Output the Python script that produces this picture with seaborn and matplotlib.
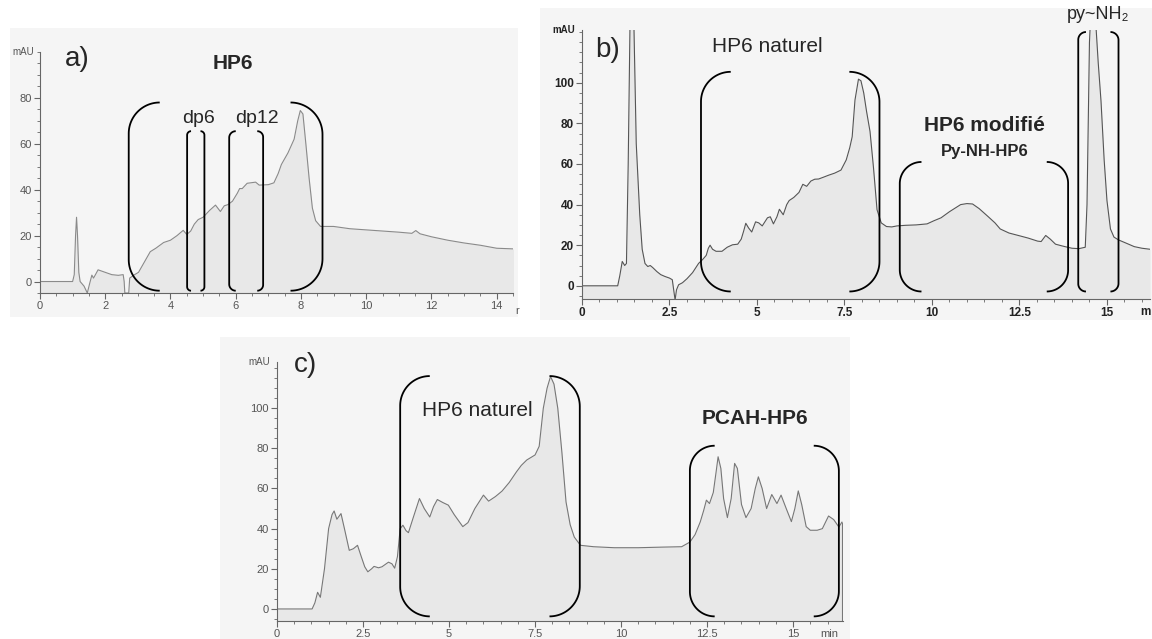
import numpy as np
import pandas as pd
import matplotlib
matplotlib.use("Agg")
import matplotlib.pyplot as plt
from matplotlib.patches import Rectangle
from matplotlib.ticker import MultipleLocator
import seaborn as sns

# ---- chromatogram a) HP6 ----
a_time = [0.0, 1.0, 1.05, 1.09, 1.12, 1.15, 1.19, 1.23, 1.35, 1.45, 1.52, 1.59, 1.64, 1.7,
          1.78, 1.9, 2.0, 2.2, 2.4, 2.55, 2.58, 2.6, 2.72, 2.75, 2.9, 3.02, 3.18, 3.38, 3.55,
          3.79, 4.0, 4.2, 4.39, 4.5, 4.62, 4.73, 4.85, 5.0, 5.2, 5.38, 5.53, 5.65, 5.76, 5.9,
          6.05, 6.12, 6.2, 6.35, 6.61, 6.72, 7.0, 7.17, 7.3, 7.4, 7.6, 7.79, 7.9, 7.98, 8.06,
          8.15, 8.25, 8.35, 8.45, 8.6, 9.0, 9.5, 10.0, 10.5, 11.0, 11.4, 11.52, 11.65, 12.0,
          12.5, 13.0, 13.5, 14.0, 14.55]
a_mau = [0, 0, 3, 20, 28, 20, 4, 0, -2, -5, -1, 2.8, 1.5, 3,
         5.1, 4.5, 4, 3, 2.7, 3, 0, -5, -5, 1.5, 3, 4, 8, 13, 14.5,
         17, 18, 20, 22.3, 20.5, 22, 25, 27, 28, 31, 33.3, 30.5, 33, 33.5, 35,
         38.5, 40.5, 40.5, 42.8, 43.3, 42, 42.2, 43, 47, 51, 56, 62, 70, 74.5, 73,
         60, 45, 32, 26.5, 24, 24, 23, 22.5, 22, 21.5, 21, 22.2, 20.8, 19.5,
         18, 16.8, 15.8, 14.5, 14.2]

# ---- chromatogram b) HP6 naturel / HP6 modifie ----
b_time = [0.0, 1.02, 1.08, 1.15, 1.22, 1.27, 1.32, 1.38, 1.42, 1.47, 1.55, 1.65, 1.72, 1.8,
          1.88, 1.95, 2.02, 2.14, 2.25, 2.37, 2.5, 2.58, 2.62, 2.66, 2.7, 2.76, 2.87, 3.0,
          3.16, 3.33, 3.45, 3.55, 3.61, 3.66, 3.73, 3.83, 4.0, 4.15, 4.3, 4.45, 4.55, 4.62,
          4.68, 4.76, 4.85, 4.96, 5.05, 5.15, 5.3, 5.38, 5.47, 5.57, 5.64, 5.75, 5.85, 5.92,
          6.05, 6.2, 6.31, 6.42, 6.54, 6.65, 6.76, 6.9, 7.05, 7.22, 7.4, 7.55, 7.65, 7.72,
          7.8, 7.9, 7.97, 8.05, 8.13, 8.23, 8.33, 8.43, 8.55, 8.7, 8.85, 9.0, 9.25, 9.55,
          9.86, 10.05, 10.26, 10.5, 10.82, 11.0, 11.16, 11.35, 11.61, 11.8, 11.95, 12.2,
          12.51, 12.75, 13.02, 13.12, 13.25, 13.38, 13.53, 13.75, 14.0, 14.2, 14.38, 14.43,
          14.5, 14.58, 14.66, 14.75, 14.83, 14.92, 15.0, 15.1, 15.2, 15.33, 15.55, 15.78,
          16.0, 16.23]
b_mau = [0, 0, 5, 12, 10, 11, 60, 140, 150, 140, 70, 35, 18, 11,
         9.5, 10, 9, 7, 5.5, 4.6, 3.8, 3, -2, -7, -2, 0.5, 1.5, 3.5,
         6.5, 11, 13, 15, 18.5, 20, 18, 17, 17, 19, 20.2, 20.5, 23, 27,
         30.8, 28.5, 26.5, 31.5, 31, 29.5, 33.5, 34, 30.5, 34, 37.7, 35, 40, 42,
         43.5, 46, 50, 49, 51.6, 52.5, 52.6, 53.5, 54.5, 55.5, 57, 62, 68, 73.4,
         91.5, 101.8, 101, 95, 86, 76, 58, 37.5, 31, 29.2, 29, 29.5, 29.8, 30,
         30.5, 32, 33.5, 36.5, 40, 40.5, 40.3, 38, 34, 31, 28, 26,
         24.6, 23.5, 22, 21.8, 24.8, 23, 20.5, 19.5, 18.5, 18.3, 19, 40,
         120, 150, 135, 110, 91, 62, 42, 28, 24, 22.6, 21, 19.3,
         18.5, 18]

# ---- chromatogram c) HP6 naturel / PCAH-HP6 ----
c_time = [0.0, 1.02, 1.1, 1.18, 1.26, 1.38, 1.5, 1.6, 1.66, 1.74, 1.86, 1.96, 2.1, 2.22,
          2.34, 2.45, 2.55, 2.64, 2.75, 2.82, 2.95, 3.05, 3.24, 3.34, 3.42, 3.5, 3.58, 3.66,
          3.75, 3.82, 3.95, 4.14, 4.28, 4.44, 4.55, 4.66, 4.82, 4.98, 5.15, 5.4, 5.55, 5.75,
          6.0, 6.15, 6.35, 6.54, 6.75, 6.96, 7.1, 7.26, 7.5, 7.62, 7.74, 7.85, 7.95, 8.05,
          8.16, 8.28, 8.4, 8.52, 8.64, 8.82, 9.2, 9.8, 10.5, 11.2, 11.76, 12.0, 12.15, 12.3,
          12.4, 12.48, 12.57, 12.68, 12.76, 12.82, 12.9, 12.98, 13.09, 13.2, 13.3, 13.38,
          13.5, 13.63, 13.78, 13.9, 13.99, 14.1, 14.23, 14.38, 14.53, 14.65, 14.8, 14.95,
          15.05, 15.15, 15.25, 15.38, 15.5, 15.7, 15.85, 16.03, 16.18, 16.33, 16.42]
c_mau = [0, 0, 3, 8.3, 5.8, 20, 40, 47, 48.8, 44.7, 47.5, 40, 29.2, 30,
         31.7, 26, 21, 18.5, 20, 21.2, 20.5, 21, 23.3, 22.5, 20.3, 26, 40, 41.7,
         39, 38, 45, 55, 50, 45.8, 51, 54.5, 53, 51.7, 47, 41, 43, 50,
         56.7, 53.7, 56, 58.7, 63, 68.3, 71.5, 74.2, 76.7, 81, 100, 110, 115.8, 112,
         100, 78, 53.3, 42, 35.8, 31.7, 31, 30.5, 30.5, 30.8, 31, 33.3, 37, 43.3,
         49, 54.2, 52.5, 58, 68, 75.8, 70, 55, 45.5, 55, 72.5, 70,
         52, 45.5, 50, 60, 65.8, 60, 50, 57, 52.5, 56.7, 50, 43.5,
         50, 58.8, 52, 41, 39.2, 39.2, 40, 46.3, 44.5, 40.8, 43.3]

# tick labels
a_xticks = [0, 2, 4, 6, 8, 10, 12, 14]
a_yticks = [0, 20, 40, 60, 80]
bc_xticks = [0, 2.5, 5, 7.5, 10, 12.5, 15]
bc_xlabels = ['0', '2.5', '5', '7.5', '10', '12.5', '15']
bc_yticks = [0, 20, 40, 60, 80, 100]

# brackets: (vertical x, end x, top y, bottom y)
a_brackets = [(2.72, 3.67, 78, -4), (8.66, 7.68, 78, -4),
              (4.51, 4.63, 65.5, -4), (5.04, 4.92, 65.5, -4),
              (5.8, 6.0, 65.5, -4), (6.84, 6.66, 65.5, -4)]
b_brackets = [(3.4, 4.25, 105.4, -2.8), (8.5, 7.64, 105.4, -2.8),
              (9.08, 9.7, 61, -2.8), (13.89, 13.28, 61, -2.8),
              (14.18, 14.4, 125, -2.8), (15.33, 15.1, 125, -2.8)]
c_brackets = [(3.58, 4.44, 116, -3.7), (8.8, 7.92, 116, -3.7),
              (12.0, 12.72, 81.3, -3.7), (16.33, 15.6, 81.3, -3.7)]

sns.set_style("ticks")
plt.rcParams['font.family'] = ['Liberation Sans', 'DejaVu Sans']

W, H = 1152, 639
fig = plt.figure(figsize=(W / 100, H / 100), dpi=100)

BG = '#f5f5f5'
FILL = '#e8e8e8'


def fig_rect(x0, y0, x1, y1):
    fig.add_artist(Rectangle((x0 / W, 1 - y1 / H), (x1 - x0) / W, (y1 - y0) / H,
                             transform=fig.transFigure, facecolor=BG,
                             edgecolor='none', zorder=-5))


fig_rect(10, 28, 518, 317)
fig_rect(540, 8, 1152, 320)
fig_rect(220, 337, 850, 639)


def make_axes(left, right, bottom, top):
    ax = fig.add_axes([left / W, 1 - bottom / H, (right - left) / W, (bottom - top) / H])
    ax.set_facecolor('none')
    sns.despine(ax=ax)
    return ax


def draw_trace(ax, t, v, xlim, ylim, xticks, xlabels, yticks, tick_color, line_color,
               bold=False, labelsize=8):
    df = pd.DataFrame({'time': t, 'mAU': v})
    ax.fill_between(df['time'], df['mAU'], ylim[0], color=FILL, lw=0, zorder=1)
    sns.lineplot(data=df, x='time', y='mAU', ax=ax, color=line_color, lw=0.8,
                 sort=False, estimator=None, zorder=2)
    ax.set_xlim(*xlim)
    ax.set_ylim(*ylim)
    ax.set_xlabel('')
    ax.set_ylabel('')
    ax.set_xticks(xticks)
    ax.set_xticklabels(xlabels)
    ax.set_yticks(yticks)
    ax.set_yticklabels([str(y) for y in yticks])
    ax.xaxis.set_minor_locator(MultipleLocator(0.5))
    ax.yaxis.set_minor_locator(MultipleLocator(5))
    ax.tick_params(which='major', length=4, width=0.8, labelsize=labelsize,
                   colors='#666666', labelcolor=tick_color, pad=2)
    ax.tick_params(which='minor', length=2, width=0.6, colors='#666666')
    for lab in ax.get_xticklabels() + ax.get_yticklabels():
        lab.set_fontweight('bold' if bold else 'normal')
    for s in ('left', 'bottom'):
        ax.spines[s].set_color('#666666')
        ax.spines[s].set_linewidth(0.8)
    ax.text(-0.012, 1.0, 'mAU', transform=ax.transAxes, ha='right', va='center',
            fontsize=7, color=tick_color, fontweight='bold' if bold else 'normal')


def draw_brackets(ax, brackets):
    x0, x1 = ax.get_xlim()
    y0, y1 = ax.get_ylim()
    bbox = ax.get_window_extent()
    aspect = (bbox.width / (x1 - x0)) / (bbox.height / (y1 - y0))
    tt = np.linspace(0, np.pi / 2, 30)
    for xv, xe, yt, yb in brackets:
        rx = xe - xv
        ry = abs(rx) * aspect
        top_x = xe - rx * np.sin(tt)
        top_y = yt - ry + ry * np.cos(tt)
        bot_x = xv + rx * (1 - np.cos(tt))
        bot_y = yb + ry - ry * np.sin(tt)
        ax.plot(np.concatenate([top_x, bot_x]), np.concatenate([top_y, bot_y]),
                color='black', lw=1.3, zorder=3, solid_capstyle='butt')


# ---- panel a ----
ax_a = make_axes(40, 513, 293, 52)
draw_trace(ax_a, a_time, a_mau, (0, 14.5), (-5, 100), a_xticks,
           [str(x) for x in a_xticks], a_yticks, '#555555', '#8a8a8a')
draw_brackets(ax_a, a_brackets)
ax_a.text(1.13, 97, 'a)', fontsize=20, ha='center', va='center')
ax_a.text(5.9, 95, 'HP6', fontsize=15, fontweight='bold', ha='center', va='center')
ax_a.text(4.87, 71, 'dp6', fontsize=14, ha='center', va='center')
ax_a.text(6.64, 71, 'dp12', fontsize=14, ha='center', va='center')
ax_a.text(1.004, -0.055, 'r', transform=ax_a.transAxes, fontsize=8, color='#555555',
          ha='left', va='top')

# ---- panel b ----
ax_b = make_axes(582, 1150, 299, 30)
draw_trace(ax_b, b_time, b_mau, (0, 16.23), (-6.5, 126), bc_xticks, bc_xlabels,
           bc_yticks, '#222222', '#555555', bold=True, labelsize=8.5)
draw_brackets(ax_b, b_brackets)
ax_b.text(0.73, 116, 'b)', fontsize=20, ha='center', va='center')
ax_b.text(5.3, 118, 'HP6 naturel', fontsize=15, ha='center', va='center')
ax_b.text(11.5, 79, 'HP6 modifié', fontsize=15, fontweight='bold', ha='center', va='center')
ax_b.text(11.5, 66, 'Py-NH-HP6', fontsize=12, fontweight='bold', ha='center', va='center')
ax_b.text(14.75, 133.5, 'py~NH₂', fontsize=13, ha='center', va='center', clip_on=False)
ax_b.text(0.982, -0.025, 'm', transform=ax_b.transAxes, fontsize=8.5, color='#222222',
          fontweight='bold', ha='left', va='top')

# ---- panel c ----
ax_c = make_axes(277, 843, 621, 362)
draw_trace(ax_c, c_time, c_mau, (0, 16.45), (-6, 123), bc_xticks, bc_xlabels,
           bc_yticks, '#555555', '#777777')
ax_c.vlines(c_time[-1], -6, c_mau[-1], color='#777777', lw=0.8, zorder=2)
draw_brackets(ax_c, c_brackets)
ax_c.text(0.84, 121.5, 'c)', fontsize=20, ha='center', va='center')
ax_c.text(5.82, 99, 'HP6 naturel', fontsize=15, ha='center', va='center')
ax_c.text(13.9, 95, 'PCAH-HP6', fontsize=15, fontweight='bold', ha='center', va='center')
ax_c.text(0.975, -0.03, 'min', transform=ax_c.transAxes, fontsize=8, color='#555555',
          ha='center', va='top')

fig.savefig('out.png', dpi=100)
